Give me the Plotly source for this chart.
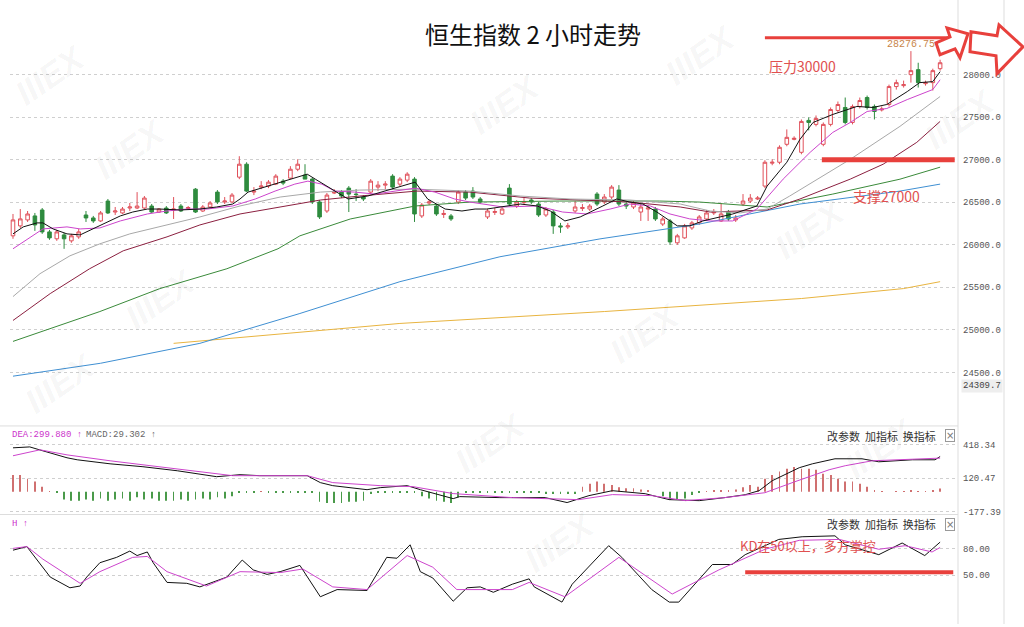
import plotly.graph_objects as go

# ---------------- data ----------------
idx = list(range(128))
opens = [26105, 26222, 26292, 26339, 26409, 26151, 26070, 26116, 26046, 26093,
         26350, 26315, 26280, 26514, 26385, 26374, 26432, 26432, 26432, 26455,
         26385, 26432, 26409, 26455, 26426, 26654, 26397, 26444, 26619, 26503,
         26503, 26795, 26947, 26619, 26678, 26690, 26713, 26748, 26783, 26888,
         26819, 26772, 26503, 26397, 26608, 26619, 26666, 26596, 26561, 26619,
         26678, 26701, 26807, 26713, 26760, 26772, 26339, 26491, 26455, 26356,
         26339, 26503, 26619, 26631, 26538, 26327, 26380, 26362, 26666, 26455,
         26496, 26526, 26479, 26350, 26385, 26222, 26210, 26397, 26426, 26420,
         26596, 26503, 26561, 26643, 26479, 26444, 26385, 26420, 26420, 26244,
         26280, 26023, 26081, 26198, 26257, 26303, 26374, 26280, 26385, 26292,
         26478, 26514, 26538, 26690, 26959, 26970, 27181, 27239, 27087, 27462,
         27415, 27181, 27415, 27579, 27614, 27438, 27626, 27731, 27626, 27585,
         27649, 27860, 27871, 28000, 28059, 27894, 27906, 28070]
highs = [26362, 26420, 26397, 26374, 26432, 26175, 26175, 26140, 26128, 26186,
         26397, 26339, 26397, 26538, 26444, 26444, 26491, 26619, 26573, 26479,
         26432, 26455, 26561, 26479, 26455, 26666, 26467, 26514, 26643, 26561,
         26608, 27041, 26970, 26678, 26748, 26760, 26830, 26772, 26924, 27005,
         26947, 26784, 26526, 26608, 26654, 26643, 26690, 26654, 26584, 26772,
         26748, 26748, 26830, 26795, 26853, 26795, 26491, 26526, 26479, 26409,
         26362, 26643, 26643, 26678, 26561, 26420, 26432, 26444, 26713, 26526,
         26549, 26549, 26503, 26444, 26409, 26257, 26257, 26514, 26479, 26479,
         26619, 26596, 26701, 26701, 26503, 26514, 26479, 26467, 26444, 26327,
         26303, 26128, 26245, 26280, 26350, 26409, 26420, 26491, 26409, 26350,
         26596, 26596, 26573, 26994, 27005, 27169, 27356, 27275, 27473, 27497,
         27520, 27438, 27614, 27684, 27731, 27649, 27731, 27754, 27649, 27626,
         27883, 27941, 27930, 28276.75, 28140, 27930, 28070, 28175]
lows = [26070, 26198, 26268, 26163, 26128, 26058, 26046, 25952, 26023, 26070,
        26268, 26257, 26268, 26362, 26350, 26362, 26397, 26420, 26420, 26374,
        26374, 26362, 26303, 26385, 26409, 26374, 26385, 26432, 26479, 26479,
        26491, 26772, 26619, 26584, 26654, 26666, 26701, 26701, 26772, 26865,
        26772, 26479, 26303, 26374, 26596, 26549, 26385, 26514, 26514, 26596,
        26631, 26654, 26654, 26690, 26736, 26268, 26315, 26467, 26339, 26315,
        26280, 26479, 26526, 26538, 26479, 26303, 26350, 26350, 26455, 26432,
        26467, 26479, 26327, 26327, 26128, 26140, 26186, 26374, 26397, 26397,
        26455, 26479, 26538, 26455, 26420, 26420, 26280, 26280, 26280, 26221,
        25999, 25999, 26070, 26175, 26233, 26280, 26350, 26268, 26280, 26268,
        26455, 26491, 26526, 26666, 26935, 26947, 27158, 27228, 27064, 27345,
        27392, 27158, 27392, 27555, 27415, 27415, 27602, 27590, 27473, 27567,
        27626, 27824, 27848, 27906, 27848, 27871, 27813, 28047]
closes = [26292, 26304, 26362, 26233, 26151, 26081, 26151, 26070, 26105, 26151,
          26315, 26280, 26374, 26374, 26397, 26420, 26444, 26455, 26549, 26385,
          26420, 26374, 26420, 26397, 26438, 26385, 26444, 26491, 26503, 26514,
          26584, 26947, 26631, 26631, 26690, 26736, 26807, 26725, 26888, 26947,
          26772, 26503, 26327, 26584, 26619, 26573, 26596, 26590, 26538, 26748,
          26701, 26713, 26678, 26772, 26830, 26362, 26467, 26503, 26362, 26368,
          26303, 26619, 26549, 26561, 26503, 26397, 26391, 26420, 26479, 26503,
          26508, 26503, 26350, 26420, 26222, 26210, 26222, 26444, 26438, 26455,
          26479, 26561, 26678, 26479, 26455, 26491, 26444, 26432, 26303, 26303,
          26034, 26105, 26222, 26257, 26327, 26374, 26385, 26362, 26303, 26315,
          26514, 26549, 26549, 26970, 26970, 27146, 27263, 27251, 27450, 27438,
          27485, 27415, 27590, 27649, 27438, 27626, 27696, 27614, 27567, 27596,
          27860, 27906, 27883, 28047, 27906, 27906, 28047, 28140]

# moving averages (candle index, value)
ma5_x = [0, 1.4, 3.3, 4.1, 5.5, 7.4, 9.2, 11.0, 12.9, 14.7, 16.4, 18.4, 20.1, 22.9, 25.6, 27.9,
         30.1, 31.1, 32.2, 34.9, 37.3, 40.3, 41.4, 43.7, 45.9, 48.6, 50.5, 53.3, 55.1, 56.8,
         59.2, 61.5, 63.3, 64.9, 67.1, 69.5, 71.8, 73.6, 75.6, 77.7, 80.8, 82.7, 84.5, 86.3,
         88.2, 91.0, 92.7, 94.5, 98.6, 101.9, 103.3, 106.0, 107.8, 109.6, 112.3, 115.6, 117.8,
         119.7, 122.5, 124.2, 126.0, 127]
ma5_y = [26128, 26210, 26257, 26257, 26186, 26128, 26116, 26186, 26269, 26339, 26385, 26420,
         26420, 26409, 26420, 26444, 26479, 26538, 26619, 26690, 26748, 26830, 26772, 26654,
         26538, 26573, 26619, 26690, 26736, 26538, 26420, 26397, 26420, 26420, 26444, 26479,
         26456, 26397, 26280, 26327, 26456, 26538, 26502, 26479, 26385, 26222, 26222, 26280,
         26362, 26456, 26690, 26970, 27239, 27438, 27532, 27626, 27614, 27649, 27801, 27906,
         27918, 28035]
ma10_x = [0, 4.1, 7.4, 9.2, 11.9, 14.7, 18.4, 21.1, 23.8, 26.6, 30.1, 33.2, 35.9, 38.6, 40.4,
          42.3, 44.1, 46.8, 49.6, 52.3, 55.1, 57.8, 60.5, 62.6, 67.1, 71.8, 75.3, 78.6, 81.8,
          84.5, 87.3, 90.0, 92.7, 95.5, 98.6, 101.9, 105.5, 109.2, 112.3, 114.7, 117.0, 119.7,
          122.5, 126.0, 127]
ma10_y = [25953, 26186, 26210, 26186, 26198, 26280, 26362, 26397, 26420, 26420, 26456, 26538,
          26631, 26713, 26748, 26713, 26631, 26619, 26596, 26631, 26666, 26619, 26538, 26502,
          26444, 26456, 26385, 26362, 26420, 26479, 26456, 26362, 26304, 26280, 26280, 26420,
          26772, 27087, 27321, 27438, 27567, 27602, 27707, 27825, 27940]
ma20_x = [0, 3.7, 7.8, 11.9, 16.0, 21.5, 25.6, 31.1, 36.6, 42.1, 47.5, 55.1, 62.6, 69.5, 76.3,
          84.5, 91.4, 95.5, 99.6, 103.3, 106.4, 114.7, 121.5, 127]
ma20_y = [25391, 25660, 25870, 26011, 26128, 26245, 26327, 26456, 26561, 26619, 26643, 26654,
          26631, 26573, 26538, 26526, 26479, 26397, 26374, 26420, 26573, 27005, 27392, 27743]
ma30_x = [0, 5.1, 10.5, 15.1, 21.1, 25.6, 31.1, 36.6, 42.1, 47.5, 55.3, 62.6, 70.8, 77.7, 84.5,
          91.4, 95.5, 103.3, 107.8, 114.7, 119.2, 123.8, 127]
ma30_y = [25110, 25426, 25718, 25929, 26093, 26233, 26362, 26444, 26526, 26573, 26631, 26619,
          26549, 26526, 26502, 26444, 26385, 26409, 26538, 26772, 26947, 27204, 27450]
ma60_x = [0, 11.9, 20.1, 29.3, 36.3, 39.3, 46.2, 55.1, 62.6, 74.9, 88.6, 94.1, 103.3, 112.3,
          121.5, 127]
ma60_y = [24864, 25215, 25484, 25718, 25953, 26105, 26303, 26456, 26502, 26514, 26514, 26502,
          26444, 26596, 26771, 26912]
ma120_x = [0, 12, 25.6, 39.3, 53, 66.7, 80.4, 94.1, 100.9, 107.8, 121.5, 127]
ma120_y = [24455, 24607, 24841, 25192, 25566, 25859, 26069, 26245, 26362, 26479, 26631, 26713]
ma250_x = [22, 53, 81, 108, 122, 127]
ma250_y = [24841, 25075, 25215, 25368, 25485, 25566]

# MACD panel
dif_x = [0, 2.3, 4.1, 7.4, 8.8, 13.3, 17.8, 22.5, 27.9, 30.1, 31.1, 33.8, 37.9, 40.3, 42.1, 43.8,
         48.5, 50.3, 54.0, 55.8, 60.3, 61.2, 66.7, 72.9, 75.9, 78.9, 82.1, 86.6, 89.9, 94.0,
         97.5, 100.3, 102.2, 104.0, 107.7, 109.5, 112.6, 116.3, 118.6, 123.2, 126.3, 127]
dif_y = [392, 400, 365, 303, 285, 249, 223, 187, 134, 143, 152, 143, 143, 143, 81, 54, 18, 36, 54,
         18, -62, -44, -53, -53, -97, -35, 9, -18, -71, -80, -53, -27, 9, 98, 214, 249, 294, 294,
         267, 285, 285, 314]
dea_x = [0, 3.7, 7.4, 13.3, 21.1, 30.1, 40.3, 43.8, 50.3, 54.8, 60.3, 68.4, 77.5, 82.1, 87.5,
         92.1, 97.5, 103.0, 107.1, 111.8, 114.0, 117.7, 127]
dea_y = [321, 374, 329, 276, 214, 143, 143, 81, 54, 45, -17, -53, -71, -26, -35, -80, -53, -9, 89,
         196, 232, 276, 300]
macd_hist = [150, 150, 115, 90, 45, 5, -10, -70, -80, -80,
             -70, -80, -60, -80, -70, -60, -80, -50, -70, -60,
             -80, -80, -80, -70, -80, -70, -60, -70, -50, -60,
             -40, -10, -5, -5, 3, -3, -3, -3, -3, -3,
             -3, -5, -90, -100, -100, -100, -90, -90, -80, -20,
             -5, -5, -5, -5, -5, -10, -40, -60, -80, -90,
             -100, -50, -10, -5, -5, -5, -5, -5, -5, -5,
             -5, -5, -5, -20, -20, -20, -20, -20, 45, 70,
             90, 70, 60, 40, 30, 30, 20, 10, 0, -40,
             -75, -75, -60, -30, -10, 5, 10, 10, 15, 20,
             40, 60, 45, 115, 150, 180, 205, 220, 205, 205,
             195, 160, 150, 115, 90, 90, 70, 45, 15, 5,
             0, 5, 5, 10, 5, 5, 10, 29]
macd_ticks = [418.34, 120.47, -177.39]

# KD panel
k_x = [0, 1.9, 5.1, 7.8, 9.2, 10.1, 11.9, 14.2, 16.0, 17.0, 18.4, 19.2, 21.1, 23.8, 25.6, 29.3,
       31.4, 32.9, 34.8, 36.6, 39.3, 42.1, 44.4, 48.5, 51.2, 52.6, 54.4, 55.8, 57.5, 60.3, 62.2,
       64.0, 65.8, 68.4, 70.7, 71.4, 75.2, 76.6, 81.6, 83.4, 87.5, 89.9, 91.2, 95.8, 98.5, 100.3,
       104.9, 108.1, 112.6, 114.0, 118.6, 121.8, 124.9, 127]
k_y = [78, 82, 48, 36, 38, 48, 64, 70, 77, 72, 76, 64, 42, 41, 37, 48, 67, 56, 51, 54, 61, 26, 34,
       33, 70, 69, 84, 54, 47, 21, 36, 37, 31, 40, 46, 37, 20, 40, 83, 70, 34, 20, 20, 62, 62, 73,
       90, 93, 94, 84, 73, 86, 72, 87]
d_x = [0, 1.9, 4.1, 9.2, 11.9, 16.4, 18.4, 21.1, 26.5, 31.1, 36.6, 39.7, 43.8, 48.5, 54.0, 57.5,
       60.8, 68.4, 70.7, 75.6, 83.0, 90.3, 96.7, 103.0, 107.7, 113.2, 118.6, 122.2, 125.9, 127]
d_y = [80, 82, 68, 41, 54, 70, 71, 54, 38, 54, 53, 57, 37, 34, 72, 59, 34, 34, 42, 26, 70, 29, 56,
       79, 89, 90, 79, 83, 76, 81]

price_ticks = [28000, 27500, 27000, 26500, 26000, 25500, 25000, 24500]
low_label = 24309.7
high_label = 28276.75
resist_level = 28433
support_level = 27000
kd_level = 53.3

# ---------------- helpers ----------------
W, H = 1024, 627


def px(x):
    return x / W


def py(y):
    return 1 - y / H


UP = "#e0505a"
DN = "#2e8b3e"
MAG = "#cc44cc"
RED = "#e8403c"

fig = go.Figure()

fig.add_trace(go.Candlestick(
    x=idx, open=opens, high=highs, low=lows, close=closes,
    increasing=dict(line=dict(color=UP, width=1), fillcolor="white"),
    decreasing=dict(line=dict(color=DN, width=1), fillcolor=DN),
    whiskerwidth=0, hoverinfo="skip", xaxis="x", yaxis="y"))

for xs, ys, col in [(ma250_x, ma250_y, "#e8b440"), (ma120_x, ma120_y, "#3f8fd2"),
                    (ma60_x, ma60_y, "#3a8a3a"), (ma30_x, ma30_y, "#8b2040"),
                    (ma20_x, ma20_y, "#a8a8a8"), (ma10_x, ma10_y, MAG),
                    (ma5_x, ma5_y, "#111111")]:
    fig.add_trace(go.Scatter(x=xs, y=ys, mode="lines", line=dict(color=col, width=1),
                             hoverinfo="skip", xaxis="x", yaxis="y"))

fig.add_trace(go.Bar(x=idx, y=macd_hist, width=0.11,
                     marker=dict(color=["#d07070" if v >= 0 else "#4a9a4a" for v in macd_hist],
                                 line=dict(width=0)),
                     xaxis="x", yaxis="y2", hoverinfo="skip"))
fig.add_trace(go.Scatter(x=dif_x, y=dif_y, mode="lines", line=dict(color="#111", width=1),
                         xaxis="x", yaxis="y2", hoverinfo="skip"))
fig.add_trace(go.Scatter(x=dea_x, y=dea_y, mode="lines", line=dict(color=MAG, width=1),
                         xaxis="x", yaxis="y2", hoverinfo="skip"))

fig.add_trace(go.Scatter(x=k_x, y=k_y, mode="lines", line=dict(color="#111", width=1),
                         xaxis="x", yaxis="y3", hoverinfo="skip"))
fig.add_trace(go.Scatter(x=d_x, y=d_y, mode="lines", line=dict(color=MAG, width=1),
                         xaxis="x", yaxis="y3", hoverinfo="skip"))

axfont = dict(family="Liberation Mono, DejaVu Sans Mono, monospace", size=9, color="#555")
common_y = dict(side="right", anchor="x", showgrid=True, gridcolor="#cfcfcf", griddash="dot",
                zeroline=False, showline=False, ticks="", tickfont=axfont, ticklabelstandoff=4,
                fixedrange=True)

fig.update_layout(
    width=W, height=H, margin=dict(l=0, r=0, t=0, b=0),
    paper_bgcolor="white", plot_bgcolor="white", showlegend=False,
    xaxis=dict(domain=[px(10), px(958)], range=[-0.41, 129.45], anchor="y",
               showticklabels=False, showgrid=False, zeroline=False, showline=False,
               rangeslider=dict(visible=False), ticks=""),
    yaxis=dict(domain=[py(390), py(28)], range=[24314.5, 28549.9],
               tickvals=price_ticks, ticktext=[f"{v:.1f}" for v in price_ticks], **common_y),
    yaxis2=dict(domain=[py(517), py(430)], range=[-204, 569.5],
                tickvals=macd_ticks, ticktext=[f"{v:.2f}" for v in macd_ticks], **common_y),
    yaxis3=dict(domain=[py(607), py(518)], range=[17.8, 116.7],
                tickvals=[80, 50], ticktext=["80.00", "50.00"], **common_y),
)

shapes = []
# frame lines
for xv in (958, 1004):
    shapes.append(dict(type="line", xref="paper", yref="paper", x0=px(xv), x1=px(xv),
                       y0=0, y1=1, line=dict(color="#dddddd", width=1)))
for yv in (428, 517):
    shapes.append(dict(type="line", xref="paper", yref="paper", x0=0, x1=px(958),
                       y0=py(yv), y1=py(yv), line=dict(color="#dddddd", width=1)))
# red marker lines
shapes.append(dict(type="line", xref="x", yref="y", x0=103, x1=128.1, y0=resist_level,
                   y1=resist_level, line=dict(color=RED, width=3)))
shapes.append(dict(type="line", xref="x", yref="y", x0=110.8, x1=129.0, y0=support_level,
                   y1=support_level, line=dict(color=RED, width=5)))
shapes.append(dict(type="line", xref="x", yref="y3", x0=100.3, x1=128.8, y0=kd_level,
                   y1=kd_level, line=dict(color=RED, width=4)))


def path(pts):
    return "M " + " L ".join(f"{px(a):.5f},{py(b):.5f}" for a, b in pts) + " Z"


arrow1 = [(936, 43), (950, 37), (947, 28), (968, 34), (960, 58), (955, 49), (940, 55)]
arrow2 = [(971, 32), (997, 36), (999, 25), (1023, 47), (997, 74), (996, 56), (970, 52)]
for pts in (arrow1, arrow2):
    shapes.append(dict(type="path", xref="paper", yref="paper", path=path(pts),
                       fillcolor="white", line=dict(color=RED, width=3)))

ann = []


def text(x, y, s, size, color, family="Noto Sans CJK SC, sans-serif", xanchor="center", **kw):
    ann.append(dict(xref="paper", yref="paper", x=px(x), y=py(y), text=s, showarrow=False,
                    xanchor=xanchor, yanchor="middle", font=dict(family=family, size=size,
                                                                 color=color), **kw))


# faint watermarks
for wx, wy in [(50, 75), (130, 150), (505, 105), (700, 55), (645, 335), (810, 230),
               (960, 120), (160, 300), (60, 385), (490, 445), (880, 450), (560, 545)]:
    text(wx, wy, "<b><i>IIIEX</i></b>", 34, "rgba(0,0,0,0.045)",
         family="Liberation Sans, Arial, sans-serif", textangle=-35)

text(533, 34, "恒生指数 2 小时走势", 24, "#111111")
text(802, 66, "压力30000", 14, "#e05050", family="Noto Sans CJK SC, Arial, sans-serif")
text(886, 197, "支撑27000", 14, "#e05050", family="Noto Sans CJK SC, Arial, sans-serif")
text(808, 548, "KD在50以上，多方掌控", 13, "#e05050")
ann.append(dict(xref="x", yref="y", x=123, y=high_label, text=f"{high_label:.2f}",
                showarrow=False, yshift=7, xanchor="center",
                font=dict(family="Liberation Mono, monospace", size=10, color="#c8864a")))
text(961, 388, f"{low_label:.1f}", 9, "#444", family="Liberation Mono, monospace",
     xanchor="left", bgcolor="#eeeeee")
text(10, 437, "DEA:299.880 ↑", 9, "#cc33cc", family="Liberation Mono, monospace",
     xanchor="left")
text(84, 437, "MACD:29.302 ↑", 9, "#666666", family="Liberation Mono, monospace",
     xanchor="left")
text(10, 527, "H ↑", 9, "#cc33cc", family="Liberation Mono, monospace", xanchor="left")
for yv in (438, 527):
    text(938, yv, "改参数  加指标  换指标", 11, "#333333", xanchor="right")
    text(950, yv, "×", 10, "#777777", family="DejaVu Sans", bordercolor="#999999",
         borderwidth=1, borderpad=0)

fig.update_layout(shapes=shapes, annotations=ann)
fig.write_html("out.html", config={"displayModeBar": False},
               post_script="document.body.style.margin='0';")
